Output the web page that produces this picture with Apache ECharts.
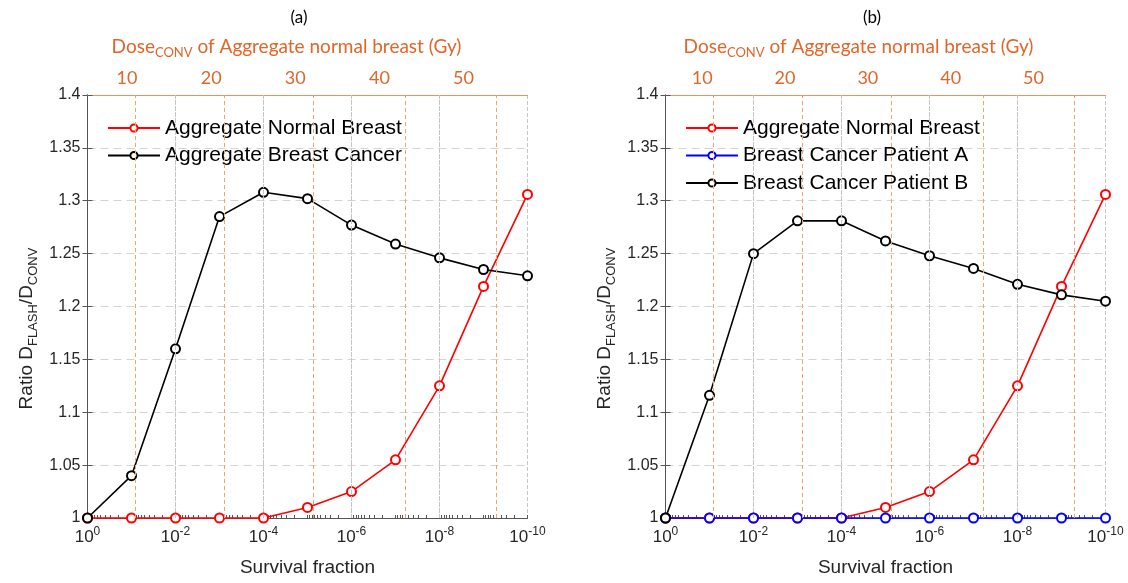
<!DOCTYPE html>
<html>
<head>
<meta charset="utf-8">
<script src="https://cdn.jsdelivr.net/npm/echarts@6/dist/echarts.min.js"></script>
<style>
  html, body { margin: 0; padding: 0; background: #fff; }
  #main { width: 1128px; height: 583px; }
</style>
</head>
<body>
<div id="main"></div>
<script>
// survival fraction of every point (x axis, drawn on log10 scale)
const survivalFraction = [1, 1e-1, 1e-2, 1e-3, 1e-4, 1e-5, 1e-6, 1e-7, 1e-8, 1e-9, 1e-10];
// panel (a)
const normalBreast = [1, 1, 1, 1, 1, 1.01, 1.025, 1.055, 1.125, 1.219, 1.306];
const breastCancer = [1, 1.04, 1.16, 1.285, 1.308, 1.302, 1.277, 1.259, 1.246, 1.235, 1.229];
// panel (b)
const patientA = [1, 1, 1, 1, 1, 1, 1, 1, 1, 1, 1];
const patientB = [1, 1.116, 1.25, 1.281, 1.281, 1.262, 1.248, 1.236, 1.221, 1.211, 1.205];
// top axis: conventional dose of aggregate normal breast
const doseTicks = [10, 20, 30, 40, 50];
const doseSurvivalLog = [-1.08, -3.11, -5.14, -7.22, -9.29]; // where each dose sits on the survival axis
const xGridExps = [-2, -4, -6, -8];

const FONT = 'Liberation Sans, Arial, sans-serif';
const TXT = '#262626';
const ORANGE = '#E0662A';
const GRID_GRAY = '#c4c4c4';
const logX = survivalFraction.map(v => Math.log10(v));
const pts = arr => arr.map((v, i) => [logX[i], v]);

// MATLAB style minor log ticks (2..9 inside each decade)
const minorTicks = [];
for (let d = 0; d > -10; d--) {
  minorTicks.push(d);
  for (let k = 9; k >= 2; k--) minorTicks.push(d - 1 + Math.log10(k));
}
minorTicks.push(-10);

const panels = [
  { grid: { left: 87.5, top: 95, width: 440, height: 423 }, doseMin: 5.3, doseMax: 57.6, nameShift: 42 },
  { grid: { left: 665.5, top: 95, width: 440, height: 423 }, doseMin: 5.57, doseMax: 58.7, nameShift: 54 }
];

function xAxesFor(gi) {
  const p = panels[gi];
  return [
    {
      // survival axis: labels + vertical grid every second decade
      type: 'value', gridIndex: gi, position: 'bottom', min: -10, max: 0, interval: 2, inverse: true,
      name: 'Survival fraction', nameLocation: 'middle', nameGap: 40,
      nameTextStyle: { fontFamily: FONT, fontSize: 19, color: TXT },
      axisLine: { lineStyle: { color: '#555', width: 1 } },
      axisTick: { show: false },
      splitLine: { show: true, lineStyle: { color: GRID_GRAY, type: 'dashed', width: 1 } },
      axisLabel: {
        margin: 8, color: TXT,
        formatter: v => '{b|10}{s|' + (Math.round(v) === 0 ? '0' : Math.round(v)) + '}',
        rich: {
          b: { fontFamily: FONT, fontSize: 17, color: TXT, lineHeight: 22 },
          s: { fontFamily: FONT, fontSize: 12, color: TXT, lineHeight: 12, verticalAlign: 'top' }
        }
      }
    },
    {
      type: 'value', gridIndex: gi, position: 'top', min: p.doseMin, max: p.doseMax,
      name: '{n|Dose}{s|CONV}{n| of Aggregate normal breast (Gy)}',
      nameLocation: 'middle', nameGap: 36,
      nameTextStyle: {
        padding: [0, p.nameShift, 0, 0],
        rich: {
          n: { fontFamily: 'Lato, sans-serif', fontSize: 19, color: ORANGE, lineHeight: 24 },
          s: { fontFamily: 'Lato, sans-serif', fontSize: 13, color: ORANGE, lineHeight: 13, verticalAlign: 'bottom' }
        }
      },
      axisLine: { lineStyle: { color: '#EE9060', width: 1.2 } },
      axisTick: { show: false },
      splitLine: { show: false },
      axisLabel: { customValues: doseTicks, margin: 8, fontFamily: 'Lato, sans-serif', fontSize: 18, color: ORANGE }
    },
    {
      // same scale again, only for the minor log ticks along the bottom
      type: 'value', gridIndex: gi, position: 'bottom', offset: 0, min: -10, max: 0, inverse: true,
      axisLine: { show: false }, axisLabel: { show: false }, splitLine: { show: false },
      axisTick: { show: true, inside: true, length: 3, customValues: minorTicks, lineStyle: { color: '#555' } }
    }
  ];
}

function yAxesFor(gi) {
  const common = {
    type: 'value', gridIndex: gi, min: 1, max: 1.4, interval: 0.05,
    axisLine: { show: true, lineStyle: { color: '#555', width: 1 } },
    axisTick: { inside: true, length: 5, lineStyle: { color: '#555' } }
  };
  return [
    Object.assign({}, common, {
      position: 'left',
      name: '{n|Ratio D}{s|FLASH}{n|/D}{s|CONV}',
      nameLocation: 'middle', nameGap: 48,
      nameTextStyle: {
        padding: [0, 44, 0, 0],
        rich: {
          n: { fontFamily: FONT, fontSize: 19, color: TXT, lineHeight: 26 },
          s: { fontFamily: FONT, fontSize: 13, color: TXT, lineHeight: 13, verticalAlign: 'bottom' }
        }
      },
      splitLine: { show: true, lineStyle: { color: '#d4d4d4', type: [8, 5] } },
      axisLabel: { margin: 7, fontFamily: FONT, fontSize: 16, color: TXT, formatter: v => String(+v.toFixed(2)) }
    }),
    Object.assign({}, common, {
      position: 'right',
      splitLine: { show: false },
      axisLabel: { show: false }
    })
  ];
}

function lineSeries(name, color, data, xi, yi, extra) {
  return Object.assign({
    name: name, type: 'line', xAxisIndex: xi, yAxisIndex: yi,
    data: pts(data), symbol: 'emptyCircle', symbolSize: 9, clip: false,
    lineStyle: { color: color, width: 1.6 },
    itemStyle: { color: color, borderColor: color, borderWidth: 1.6 },
    animation: false
  }, extra || {});
}

function vLines(values, color, dash) {
  return {
    markLine: {
      silent: true, symbol: 'none', label: { show: false }, animation: false,
      emphasis: { disabled: true },
      lineStyle: { color: color, type: dash, width: 1 },
      data: values.map(v => ({ xAxis: v }))
    }
  };
}

const legendText = { fontFamily: FONT, fontSize: 21, lineHeight: 21, color: '#000' };

const chart = echarts.init(document.getElementById('main'));
chart.setOption({
  backgroundColor: '#fff',
  animation: false,
  title: [
    { text: '(a)', left: 294, top: 4, textAlign: 'center', textStyle: { fontFamily: 'Lato, sans-serif', fontSize: 17, fontWeight: 'normal', color: '#000' } },
    { text: '(b)', left: 867, top: 4, textAlign: 'center', textStyle: { fontFamily: 'Lato, sans-serif', fontSize: 17, fontWeight: 'normal', color: '#000' } }
  ],
  legend: [
    {
      left: 107, top: 117.5, orient: 'vertical', padding: 0, itemGap: 6.5, itemWidth: 52, itemHeight: 9,
      data: ['Aggregate Normal Breast', 'Aggregate Breast Cancer'], textStyle: legendText
    },
    {
      left: 685, top: 117.5, orient: 'vertical', padding: 0, itemGap: 6.5, itemWidth: 52, itemHeight: 9,
      data: ['Aggregate Normal Breast', 'Breast Cancer Patient A', 'Breast Cancer Patient B'], textStyle: legendText
    }
  ],
  grid: panels.map(p => p.grid),
  xAxis: xAxesFor(0).concat(xAxesFor(1)),
  yAxis: yAxesFor(0).concat(yAxesFor(1)),
  series: [
    lineSeries('Aggregate Normal Breast', '#ff0000', normalBreast, 0, 0, vLines(doseSurvivalLog, '#F2A26F', [4, 3])),
    lineSeries('Aggregate Breast Cancer', '#000000', breastCancer, 0, 0, vLines(xGridExps, GRID_GRAY, 'dashed')),
    lineSeries('Aggregate Normal Breast', '#ff0000', normalBreast, 3, 2, vLines(doseSurvivalLog, '#F2A26F', [4, 3])),
    lineSeries('Breast Cancer Patient A', '#0000ff', patientA, 3, 2),
    lineSeries('Breast Cancer Patient B', '#000000', patientB, 3, 2, vLines(xGridExps, GRID_GRAY, 'dashed'))
  ]
});
</script>
</body>
</html>
